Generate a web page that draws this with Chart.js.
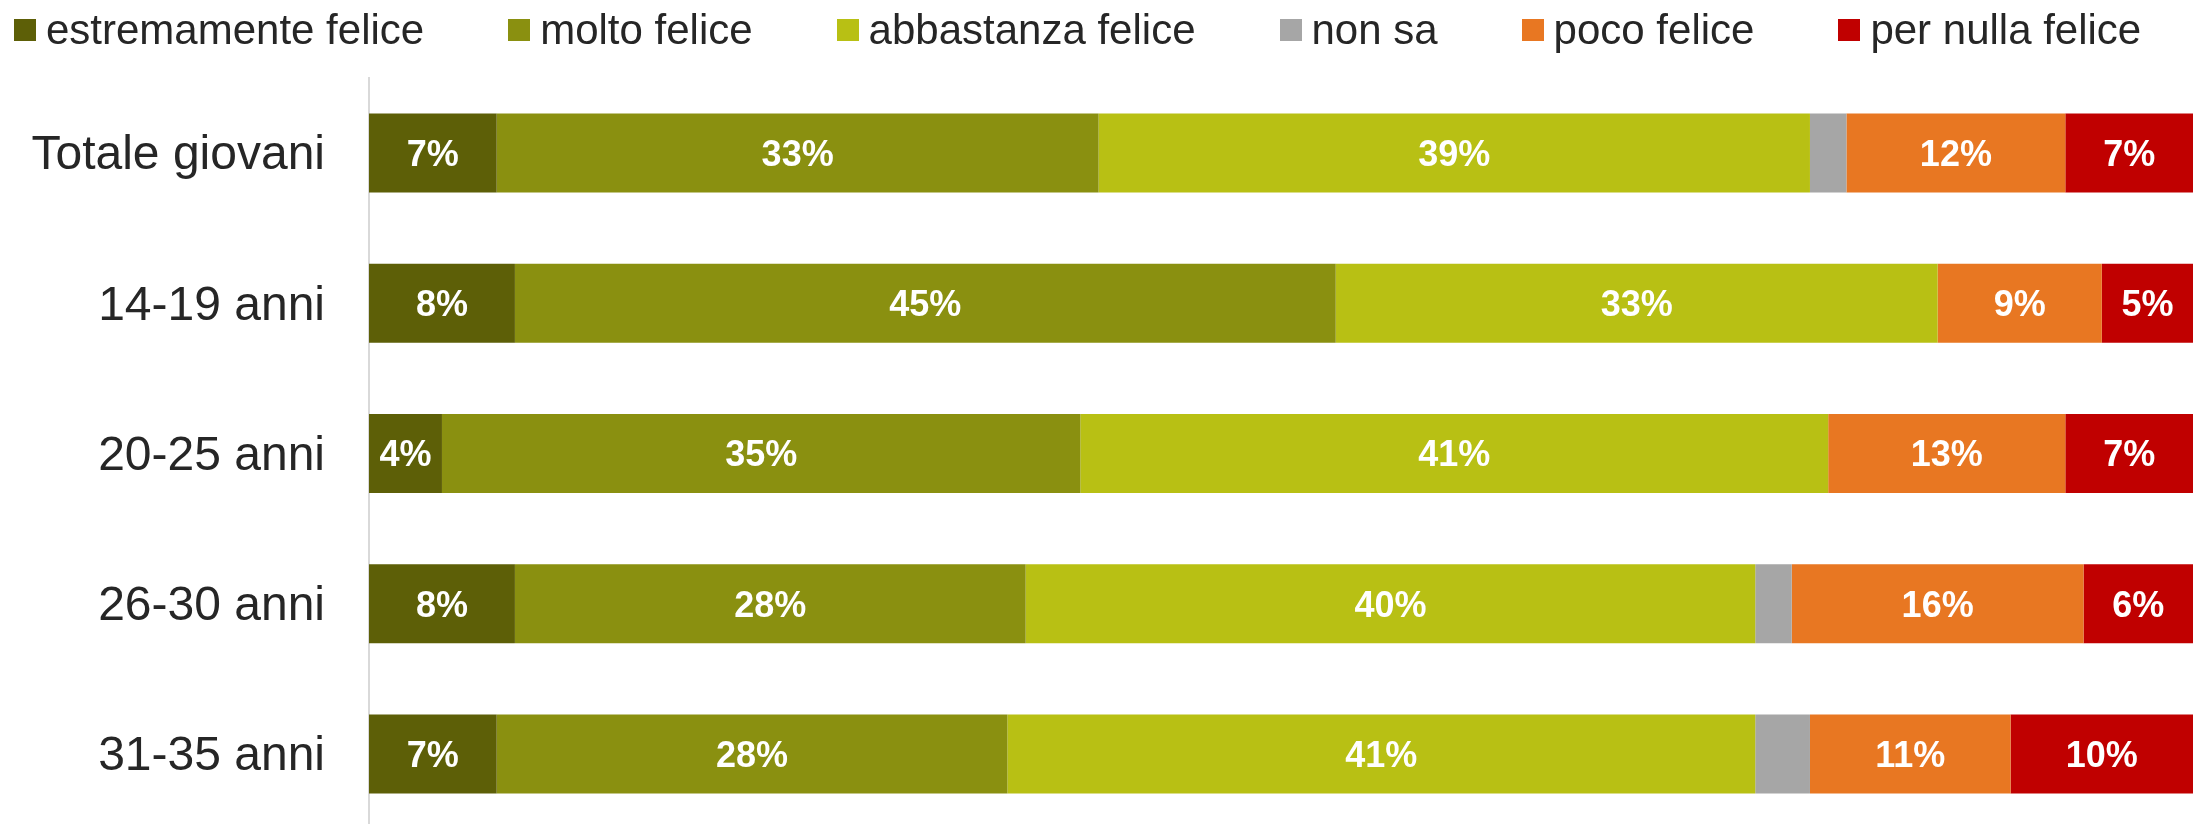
<!DOCTYPE html>
<html>
<head>
<meta charset="utf-8">
<title>Felicità dei giovani</title>
<script src="https://cdn.jsdelivr.net/npm/chart.js@4.4.1/dist/chart.umd.min.js"></script>
<style>
  body { margin: 0; background: #fff; overflow: hidden; width: 2193px; height: 824px; position: relative; }
  #wrap { position: absolute; left: 0; top: 0; width: 2193px; height: 829px; }
  #legend {
    position: absolute; left: 14px; top: 9px; display: flex; gap: 84px;
    font: 42px "Liberation Sans", Arial, sans-serif; color: #262626;
    line-height: 42px; white-space: nowrap;
  }
  .item { display: flex; align-items: center; }
  .box { width: 22px; height: 22px; margin-right: 10px; }
</style>
</head>
<body>
<div id="wrap"><canvas id="chart" width="2193" height="829"></canvas></div>
<div id="legend"></div>

<script>
// categorie (righe)
const categories = ["Totale giovani", "14-19 anni", "20-25 anni", "26-30 anni", "31-35 anni"];

// valori in %
const estremamente = [7, 8, 4, 8, 7];
const molto        = [33, 45, 35, 28, 28];
const abbastanza   = [39, 33, 41, 40, 41];
const nonSa        = [2, 0, 0, 2, 3];
const poco         = [12, 9, 13, 16, 11];
const perNulla     = [7, 5, 7, 6, 10];

const seriesNames  = ["estremamente felice", "molto felice", "abbastanza felice", "non sa", "poco felice", "per nulla felice"];
const seriesColors = ["#5d5f07", "#8a9010", "#b8c014", "#a6a6a6", "#e87722", "#c00000"];
const seriesValues = [estremamente, molto, abbastanza, nonSa, poco, perNulla];

const FONT = '"Liberation Sans", Arial, sans-serif';

const datasets = seriesNames.map((name, i) => ({
    label: name,
    data: seriesValues[i],
    backgroundColor: seriesColors[i],
    borderWidth: 0,
    barPercentage: 0.526,
    categoryPercentage: 1,
    hideLabels: name === "non sa" // i valori piccoli non hanno etichetta
}));

// etichette bianche al centro di ogni segmento
const valueLabels = {
    id: "valueLabels",
    afterDatasetsDraw(chart) {
        const ctx = chart.ctx;
        ctx.save();
        ctx.font = "bold 36px " + FONT;
        ctx.fillStyle = "#ffffff";
        ctx.textAlign = "center";
        ctx.textBaseline = "middle";
        chart.data.datasets.forEach((ds, i) => {
            if (ds.hideLabels) return;
            chart.getDatasetMeta(i).data.forEach((bar, j) => {
                const v = ds.data[j];
                if (!v) return;
                ctx.fillText(Math.round(v) + "%", (bar.x + bar.base) / 2, bar.y + 3);
            });
        });
        ctx.restore();
    }
};

new Chart(document.getElementById("chart"), {
    type: "bar",
    data: { labels: categories, datasets: datasets },
    plugins: [valueLabels],
    options: {
        indexAxis: "y",
        responsive: false,
        animation: false,
        devicePixelRatio: 1,
        layout: { padding: { top: 78, right: 0, bottom: 0, left: 0 } },
        plugins: {
            legend: { display: false },
            tooltip: { enabled: false }
        },
        scales: {
            x: { stacked: true, min: 0, max: 100, display: false },
            y: {
                stacked: true,
                grid: { display: true, drawOnChartArea: false, drawTicks: false },
                border: { display: true, color: "#d9d9d9", width: 2 },
                ticks: { color: "#262626", font: { family: FONT, size: 48 }, padding: 44, labelOffset: 3 },
                afterFit: (scale) => {
                    scale.width = 369;
                    scale.paddingTop = 0;    // niente margine verticale extra
                    scale.paddingBottom = 0;
                }
            }
        }
    }
});

// legenda costruita dagli stessi array
const legend = document.getElementById("legend");
seriesNames.forEach((name, i) => {
    const item = document.createElement("div");
    item.className = "item";
    item.innerHTML = `<span class="box" style="background:${seriesColors[i]}"></span><span>${name}</span>`;
    legend.appendChild(item);
});
</script>
</body>
</html>
